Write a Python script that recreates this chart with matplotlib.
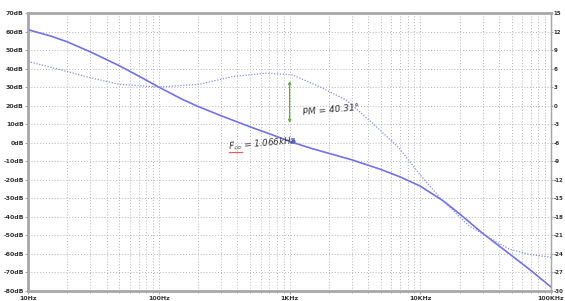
import numpy as np
import matplotlib.pyplot as plt

# magnitude (dB)
mag_f = [10, 15, 20, 30, 50, 70, 100, 150, 200, 300, 500, 700, 1066, 1500, 2000, 3000,
         5000, 7000, 10000, 15000, 20000, 30000, 50000, 70000, 100000]
mag_db = [61, 57.5, 54.4, 49, 41.5, 36, 30, 23.5, 19.5, 14.5, 8.5, 4.8, 0, -3.3, -5.8, -9.3,
          -14.5, -18.5, -23.5, -31.5, -38.5, -49, -61, -69, -78]

# phase (right axis units as shown)
ph_f = [10, 20, 30, 50, 100, 205, 367, 664, 1050, 1690, 2710, 4300, 6900, 10000,
        14700, 23600, 35000, 47900, 68000, 100000]
ph_val = [7.14, 5.52, 4.5, 3.45, 3.0, 3.45, 4.71, 5.25, 4.98, 3.09, 0.9, -2.82, -6.9, -11.25,
          -15.3, -19.5, -21.6, -23.25, -24.09, -24.6]

db_ticks = list(range(70, -90, -10))
db_labels = [f"{v}dB" for v in db_ticks]
ph_ticks = list(range(15, -33, -3))
ph_labels = [str(v) for v in ph_ticks]
f_ticks = [10, 100, 1000, 10000, 100000]
f_labels = ["10Hz", "100Hz", "1KHz", "10KHz", "100KHz"]

f_co = 1066
pm_top, pm_bot = 33.3, 10.6

fig = plt.figure(figsize=(5.65, 3.01), dpi=100)
ax = fig.add_axes([0.0496, 0.0342, 0.9256, 0.9226])
ax2 = ax.twinx()

line_col = '#7272e0'
ax.plot(mag_f, mag_db, color=line_col, lw=1.2, zorder=3)
ax2.plot(ph_f, ph_val, color='#8c8ce6', lw=0.9, ls=(0, (1, 1.3)), zorder=3)

ax.set_xscale('log')
ax.set_xlim(10, 100000)
ax.set_ylim(-80, 70)
ax2.set_ylim(-30, 15)

ax.set_xticks(f_ticks)
ax.set_xticklabels(f_labels)
ax.set_yticks(db_ticks)
ax.set_yticklabels(db_labels)
ax2.set_yticks(ph_ticks)
ax2.set_yticklabels(ph_labels)

ax.grid(True, which='both', axis='x', color='#b4b4b4', ls=(0, (1, 2)), lw=0.7)
ax.grid(True, which='major', axis='y', color='#b4b4b4', ls=(0, (1, 2)), lw=0.7)

for a in (ax, ax2):
    for s in a.spines.values():
        s.set_color('#a8a8a8')
ax.spines['left'].set_linewidth(2)
ax.spines['bottom'].set_linewidth(2)
ax.spines['top'].set_linewidth(2)
ax2.spines['right'].set_linewidth(1)

ax.tick_params(axis='both', which='both', labelsize=4.5, colors='#a8a8a8', labelcolor='#333333',
               length=2, pad=1)
ax.tick_params(axis='x', which='minor', length=1.5)
ax.tick_params(axis='x', pad=2)
ax2.tick_params(axis='y', labelsize=4.0, colors='#a8a8a8', labelcolor='#333333', length=1.5, pad=0.5)
for t in ax.get_xticklabels() + ax.get_yticklabels() + ax2.get_yticklabels():
    t.set_fontweight('bold')

# annotations
ax.annotate('', xy=(f_co * 0.94, pm_top), xytext=(f_co * 0.94, pm_bot),
            arrowprops=dict(arrowstyle='<|-|>', color='#66aa44', lw=0.9,
                            mutation_scale=4, shrinkA=0, shrinkB=0), zorder=4)
ax.text(1250, 15, "PM = 40.31°", fontsize=6.5, style='italic', color='#333333', rotation=5)
ax.plot([f_co], [0.9], 'o', color='#4466cc', ms=2, zorder=4)
ax.text(336, -3.5, r"$F_{co}$ = 1.066kHz", fontsize=6.3, style='italic', color='#333333', rotation=5)
ax.plot(np.geomspace(345, 440, 12), -5.6 + 0.4 * np.array([0, 1] * 6), color='#dd3333', lw=0.6)

fig.savefig('out.png', dpi=100)
